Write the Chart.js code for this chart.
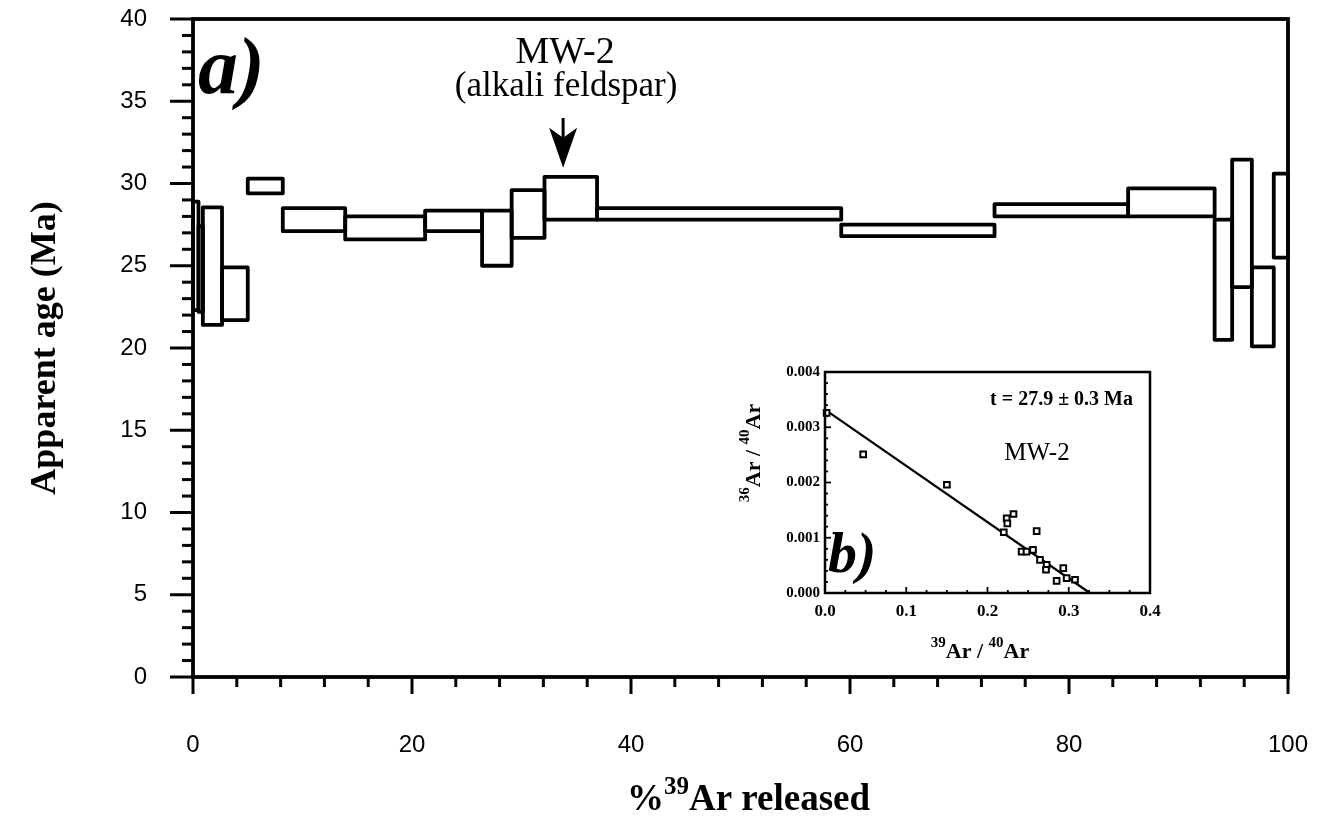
<!DOCTYPE html>
<html><head><meta charset="utf-8">
<script src="https://cdn.jsdelivr.net/npm/chart.js@4.4.1/dist/chart.umd.min.js"></script>
<style>
html,body{margin:0;padding:0;background:#fff;}
#wrap{position:relative;width:1328px;height:823px;background:#fff;}
#main{position:absolute;left:0;top:0;}
#inset{position:absolute;left:700px;top:350px;}
</style></head><body>
<div id="wrap"><canvas id="main" width="1328" height="823"></canvas><canvas id="inset" width="480" height="330"></canvas></div>
<script>
// ---- Age spectrum (a) ----
const stepEdges = [0, 0.5, 0.9, 2.65, 5.0, 8.2, 13.9, 21.2, 26.4, 29.1, 32.1, 36.9, 59.2, 73.2, 85.4, 93.3, 94.9, 96.7, 98.7, 100];
const ageLow  = [22.3, 22.2, 21.4, 21.7, 29.4, 27.1, 26.6, 27.1, 25.0, 26.7, 27.8, 27.8, 26.8, 28.0, 28.0, 20.5, 23.7, 20.1, 25.5];
const ageHigh = [28.9, 27.4, 28.55, 24.9, 30.3, 28.5, 28.0, 28.35, 28.35, 29.6, 30.4, 28.5, 27.5, 28.75, 29.7, 27.8, 31.45, 24.9, 30.6];
const xTickLabels = [0, 20, 40, 60, 80, 100];
const yTickLabels = [0, 5, 10, 15, 20, 25, 30, 35, 40];

// ---- Inverse isochron (b) ----
const isoX = [0.002, 0.047, 0.150, 0.220, 0.2236, 0.2244, 0.232, 0.242, 0.248, 0.256, 0.2605, 0.2646, 0.2728, 0.272, 0.2851, 0.2933, 0.2974, 0.3077];
const isoY = [0.00326, 0.00251, 0.00196, 0.00110, 0.00135, 0.00126, 0.00143, 0.00075, 0.00075, 0.00078, 0.00112, 0.00060, 0.00051, 0.00042, 0.00022, 0.00045, 0.00027, 0.00024];
const fitX = [0, 0.326];
const fitY = [0.00332, 0];
const isoXTicks = [0.0, 0.1, 0.2, 0.3, 0.4];
const isoYTicks = [0.000, 0.001, 0.002, 0.003, 0.004];

const stepDatasets = ageLow.map((lo, i) => {
  const x0 = stepEdges[i], x1 = stepEdges[i + 1], hi = ageHigh[i];
  return {
    data: [{x: x0, y: lo}, {x: x0, y: hi}, {x: x1, y: hi}, {x: x1, y: lo}, {x: x0, y: lo}],
    showLine: true, borderColor: '#000', borderWidth: 3.8, pointRadius: 0,
    borderJoinStyle: 'round', borderCapStyle: 'round', fill: false, tension: 0, clip: false
  };
});

function drawParts(ctx, parts, x, y) {
  ctx.textAlign = 'left';
  let w = 0;
  parts.forEach(p => { ctx.font = p.font; p.w = ctx.measureText(p.text).width; w += p.w; });
  let cx = x - w / 2;
  parts.forEach(p => { ctx.font = p.font; ctx.fillText(p.text, cx, y + (p.dy || 0)); cx += p.w; });
}

const mainDecor = {
  id: 'mainDecor',
  afterDraw(chart) {
    const ctx = chart.ctx, a = chart.chartArea, xs = chart.scales.x, ys = chart.scales.y;
    ctx.save();
    ctx.strokeStyle = '#000'; ctx.fillStyle = '#000';
    ctx.lineWidth = 3.8;
    ctx.strokeRect(a.left, a.top, a.right - a.left, a.bottom - a.top);
    ctx.lineWidth = 3; ctx.lineCap = 'butt';
    for (let v = 0; v <= 40; v++) {
      const py = ys.getPixelForValue(v), len = v % 5 === 0 ? 23 : 11;
      ctx.beginPath(); ctx.moveTo(a.left - len, py); ctx.lineTo(a.left, py); ctx.stroke();
    }
    for (let v = 0; v <= 100; v += 4) {
      const px = xs.getPixelForValue(v), len = v % 20 === 0 ? 17 : 10;
      ctx.beginPath(); ctx.moveTo(px, a.bottom); ctx.lineTo(px, a.bottom + len); ctx.stroke();
    }
    // panel letter
    ctx.textBaseline = 'alphabetic';
    ctx.textAlign = 'left';
    ctx.font = 'italic bold 80px "Liberation Serif"';
    ctx.fillText('a)', a.left + 5, 93);
    // sample label + arrow
    const ax = xs.getPixelForValue(33.8);
    ctx.textAlign = 'center';
    ctx.font = '38px "Liberation Serif"';
    ctx.fillText('MW-2', ax + 2, 63);
    ctx.font = '35px "Liberation Serif"';
    ctx.fillText('(alkali feldspar)', ax + 3, 96);
    const tipY = ys.getPixelForValue(30.95);
    ctx.lineWidth = 3;
    ctx.beginPath(); ctx.moveTo(ax, 118); ctx.lineTo(ax, tipY - 25); ctx.stroke();
    ctx.beginPath();
    ctx.moveTo(ax, tipY); ctx.lineTo(ax - 14, tipY - 40); ctx.lineTo(ax, tipY - 30); ctx.lineTo(ax + 14, tipY - 40);
    ctx.closePath(); ctx.fill();
    // x title
    drawParts(ctx, [
      {text: '%', font: 'bold 37px "Liberation Serif"'},
      {text: '39', font: 'bold 25px "Liberation Serif"', dy: -16},
      {text: 'Ar released', font: 'bold 37px "Liberation Serif"'}
    ], (a.left + a.right) / 2 + 8, 810);
    ctx.restore();
  }
};

new Chart(document.getElementById('main'), {
  type: 'scatter',
  data: { datasets: stepDatasets },
  options: {
    responsive: false, animation: false, devicePixelRatio: 1,
    layout: { padding: { left: 0, right: 40, top: 19, bottom: 0 } },
    plugins: { legend: { display: false }, tooltip: { enabled: false } },
    scales: {
      x: {
        type: 'linear', min: 0, max: 100,
        afterBuildTicks(s) { s.ticks = xTickLabels.map(v => ({value: v})); },
        ticks: { padding: 54, color: '#000', font: { family: 'Liberation Sans', size: 24 }, maxRotation: 0 },
        grid: { display: false, drawTicks: false }, border: { display: false },
        afterFit(s) { s.height = 146; s.paddingLeft = 0; s.paddingRight = 0; }
      },
      y: {
        type: 'linear', min: 0, max: 40,
        afterBuildTicks(s) { s.ticks = yTickLabels.map(v => ({value: v})); },
        ticks: { padding: 46, color: '#000', font: { family: 'Liberation Sans', size: 24 } },
        grid: { display: false, drawTicks: false }, border: { display: false },
        title: { display: true, text: 'Apparent age (Ma)', color: '#000',
                 font: { family: 'Liberation Serif', size: 36, weight: 'bold' }, padding: { top: 24, bottom: 0 } },
        afterFit(s) { s.width = 193; s.paddingTop = 0; s.paddingBottom = 0; }
      }
    }
  },
  plugins: [mainDecor]
});

const insetDecor = {
  id: 'insetDecor',
  afterDraw(chart) {
    const ctx = chart.ctx, a = chart.chartArea, xs = chart.scales.x, ys = chart.scales.y;
    ctx.save();
    ctx.strokeStyle = '#000'; ctx.fillStyle = '#000';
    ctx.lineWidth = 2.5;
    ctx.strokeRect(a.left, a.top, a.right - a.left, a.bottom - a.top);
    ctx.lineWidth = 1.8;
    for (let k = 0; k <= 20; k++) {
      const py = ys.getPixelForValue(k * 0.0002), len = k % 5 === 0 ? 6 : 3;
      ctx.beginPath(); ctx.moveTo(a.left, py); ctx.lineTo(a.left + len, py); ctx.stroke();
    }
    for (let k = 0; k <= 16; k++) {
      const px = xs.getPixelForValue(k * 0.025), len = k % 4 === 0 ? 6 : 3;
      ctx.beginPath(); ctx.moveTo(px, a.bottom); ctx.lineTo(px, a.bottom - len); ctx.stroke();
    }
    ctx.textBaseline = 'alphabetic';
    ctx.textAlign = 'right';
    ctx.font = 'bold 20px "Liberation Serif"';
    ctx.fillText('t = 27.9 \u00b1 0.3 Ma', a.right - 17, 55);
    ctx.textAlign = 'center';
    ctx.font = '25px "Liberation Serif"';
    ctx.fillText('MW-2', 337, 110);
    ctx.textAlign = 'left';
    ctx.font = 'italic bold 58px "Liberation Serif"';
    ctx.fillText('b)', a.left + 3, 222);
    // x title
    drawParts(ctx, [
      {text: '39', font: 'bold 15px "Liberation Serif"', dy: -11},
      {text: 'Ar / ', font: 'bold 22px "Liberation Serif"'},
      {text: '40', font: 'bold 15px "Liberation Serif"', dy: -11},
      {text: 'Ar', font: 'bold 22px "Liberation Serif"'}
    ], 280, 308);
    // y title
    ctx.translate(60, 103);
    ctx.rotate(-Math.PI / 2);
    drawParts(ctx, [
      {text: '36', font: 'bold 15px "Liberation Serif"', dy: -11},
      {text: 'Ar / ', font: 'bold 22px "Liberation Serif"'},
      {text: '40', font: 'bold 15px "Liberation Serif"', dy: -11},
      {text: 'Ar', font: 'bold 22px "Liberation Serif"'}
    ], 0, 0);
    ctx.restore();
  }
};

new Chart(document.getElementById('inset'), {
  type: 'scatter',
  data: {
    datasets: [
      { data: isoX.map((x, i) => ({x, y: isoY[i]})), pointStyle: 'rect', pointRadius: 4,
        pointBorderWidth: 2, pointBorderColor: '#000', pointBackgroundColor: '#fff', showLine: false, clip: false },
      { data: fitX.map((x, i) => ({x, y: fitY[i]})), showLine: true, borderColor: '#000', borderWidth: 2.2,
        pointRadius: 0, fill: false, clip: false }
    ]
  },
  options: {
    responsive: false, animation: false, devicePixelRatio: 1,
    layout: { padding: { left: 0, right: 30, top: 22, bottom: 0 } },
    plugins: { legend: { display: false }, tooltip: { enabled: false } },
    scales: {
      x: {
        type: 'linear', min: 0, max: 0.4,
        afterBuildTicks(s) { s.ticks = isoXTicks.map(v => ({value: v})); },
        ticks: { padding: 8, color: '#000', maxRotation: 0, font: { family: 'Liberation Serif', size: 17, weight: 'bold' },
                 callback: v => v.toFixed(1) },
        grid: { display: false, drawTicks: false }, border: { display: false },
        afterFit(s) { s.height = 87; s.paddingLeft = 0; s.paddingRight = 0; }
      },
      y: {
        type: 'linear', min: 0, max: 0.004,
        afterBuildTicks(s) { s.ticks = isoYTicks.map(v => ({value: v})); },
        ticks: { padding: 5, color: '#000', font: { family: 'Liberation Serif', size: 15, weight: 'bold' },
                 callback: v => v.toFixed(3) },
        grid: { display: false, drawTicks: false }, border: { display: false },
        afterFit(s) { s.width = 125; s.paddingTop = 0; s.paddingBottom = 0; }
      }
    }
  },
  plugins: [insetDecor]
});
</script>
</body></html>
